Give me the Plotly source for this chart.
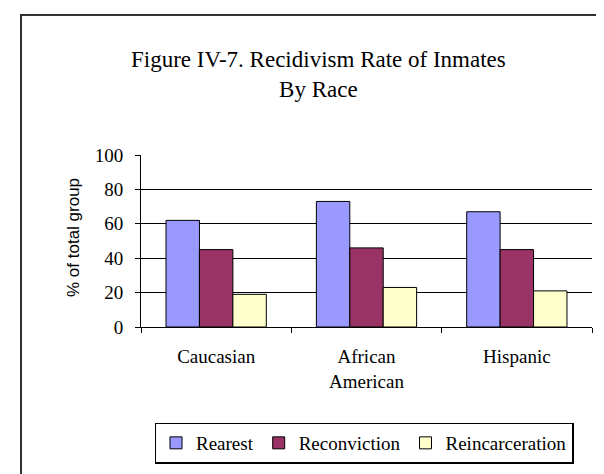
import plotly.graph_objects as go

categories = ["Caucasian", "African<br>American", "Hispanic"]
rearrest = [62, 73, 67]
reconviction = [45, 46, 45]
reincarceration = [19, 23, 21]
series_names = ["Rearest", "Reconviction", "Reincarceration"]
series_colors = ["#9999FF", "#993366", "#FFFFCC"]
y_ticks = [0, 20, 40, 60, 80, 100]

W, H = 604, 474
L, R, T, B = 133, 20, 147, 155
pw, ph = W - L - R, H - T - B

def px(x):
    return (x - L) / pw

def py(y):
    return (H - B - y) / ph

fig = go.Figure()
for name, vals, col in zip(series_names, [rearrest, reconviction, reincarceration], series_colors):
    fig.add_trace(go.Bar(x=categories, y=vals, name=name,
                         marker=dict(color=col, line=dict(color="black", width=1))))

serif = "Liberation Serif, Times New Roman, serif"
fig.update_layout(
    width=W, height=H,
    margin=dict(l=L, r=R, t=T, b=B),
    paper_bgcolor="white", plot_bgcolor="white",
    barmode="group", bargap=0.333, bargroupgap=0,
    font=dict(family=serif, color="black", size=19),
    showlegend=True,
    legend=dict(orientation="h", x=px(356), xanchor="center", y=py(435), yanchor="middle",
                bordercolor="black", borderwidth=1.5, bgcolor="white",
                font=dict(family=serif, size=19, color="black"),
                itemwidth=30, tracegroupgap=0),
    xaxis=dict(showline=True, linecolor="black", linewidth=1, ticks="outside",
               tickson="boundaries", ticklen=5, tickcolor="black",
               ticklabelstandoff=12, showgrid=False,
               tickfont=dict(family=serif, size=19)),
    yaxis=dict(range=[0, 100], tickvals=y_ticks, showline=True, linecolor="black",
               linewidth=1, ticks="outside", ticklen=5, tickcolor="black",
               showgrid=True, gridcolor="black", gridwidth=1, zeroline=False,
               ticklabelstandoff=8, tickfont=dict(family=serif, size=19)),
    shapes=[dict(type="rect", xref="paper", yref="paper",
                 x0=px(13), x1=px(602), y0=py(480), y1=py(7),
                 line=dict(color="#333333", width=2), fillcolor="rgba(0,0,0,0)",
                 layer="below")],
    annotations=[
        dict(text="Figure IV-7. Recidivism Rate of Inmates<br>By Race", xref="paper", yref="paper",
             x=px(310), y=py(66), xanchor="center", yanchor="middle", showarrow=False,
             font=dict(family=serif, size=23, color="black")),
        dict(text="% of total group", xref="paper", yref="paper", x=px(65), y=py(230),
             xanchor="center", yanchor="middle", textangle=-90, showarrow=False,
             font=dict(family="Liberation Sans, Arial, sans-serif", size=17, color="black")),
    ],
)

fig.write_html("out.html")
